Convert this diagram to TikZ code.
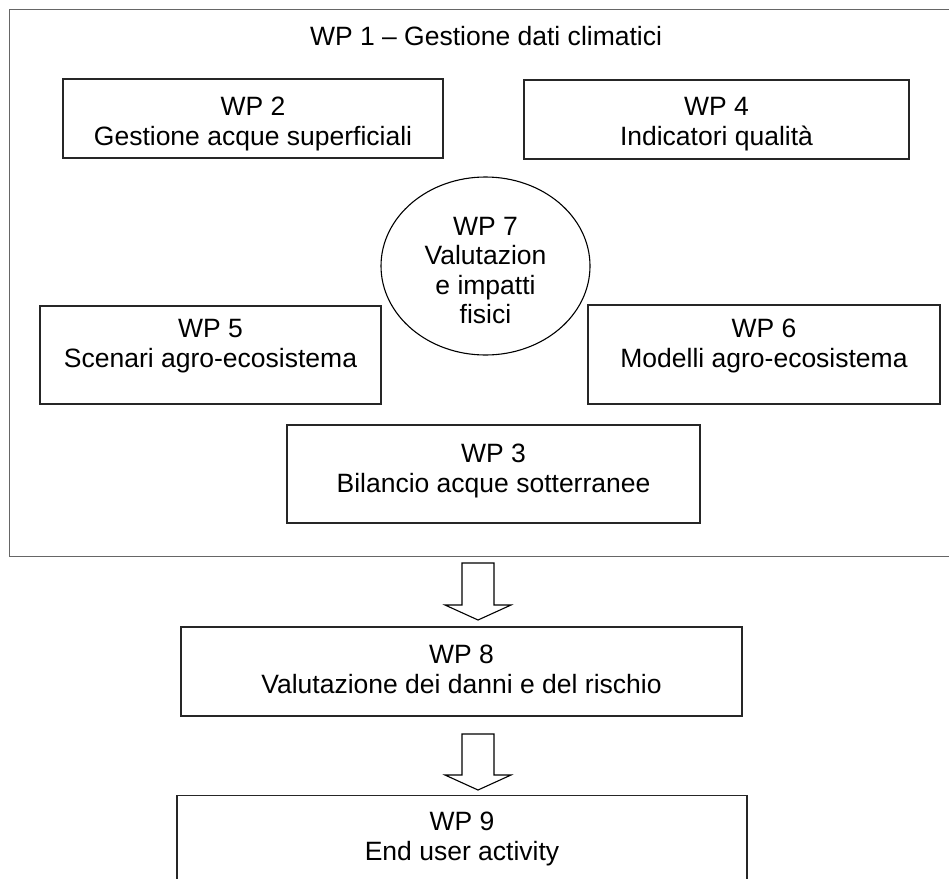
\documentclass[tikz,border=0pt]{standalone}
\usepackage{fontspec}
\setmainfont{Liberation Sans}
\usetikzlibrary{shapes.geometric}
\newcommand\uprule[1]{\rule{0pt}{#1pt}}
\newcommand\dnrule[1]{\rule[-#1pt]{0pt}{#1pt}}
\begin{document}
\begin{tikzpicture}[x=1pt,y=-1pt,
  every node/.style={font=\fontsize{26.5}{30}\selectfont, text=black},
  box/.style={draw=black!85, line width=1.1pt, rectangle, align=center, inner sep=0pt},
  oval/.style={draw=black, line width=1.1pt, ellipse, align=center, inner sep=0pt},
  outer/.style={draw=black!60, line width=1.3pt, rectangle, inner sep=0pt},
  barrow/.style={draw=black, line width=1.1pt, line join=miter}]
\useasboundingbox (0,0) rectangle (949,878);
\node[outer, minimum width=955, minimum height=547, anchor=north west] (wp1) at (9,9) {};
\node[inner sep=0pt] (wp1t) at (486,36.5) {WP 1 -- Gestione dati climatici};
\node[box, minimum width=380, minimum height=79] (wp2) at (253,118.5) {\uprule{28.6}WP 2\\Gestione acque superficiali};
\node[box, minimum width=385, minimum height=79] (wp4) at (716.5,119.5) {\uprule{27}WP 4\\Indicatori qualità};
\node[oval, minimum width=209, minimum height=178, font=\fontsize{26.5}{29.5}\selectfont] (wp7) at (485.5,266) {\uprule{26.8}WP 7\\Valutazion\\e impatti\\fisici};
\node[box, minimum width=341, minimum height=98] (wp5) at (210.5,355) {WP 5\\Scenari agro-ecosistema\dnrule{23}};
\node[box, minimum width=352, minimum height=99] (wp6) at (764,354.5) {WP 6\\Modelli agro-ecosistema\dnrule{22}};
\node[box, minimum width=413, minimum height=98] (wp3) at (493.5,474) {WP 3\\Bilancio acque sotterranee\dnrule{11}};
\node[box, minimum width=561, minimum height=89] (wp8) at (461.5,671.5) {WP 8\\Valutazione dei danni e del rischio\dnrule{4}};
\node[box, minimum width=570, minimum height=86, anchor=north] (wp9) at (462,795) {WP 9\\End user activity};
% block arrows
\coordinate (a1) at (478,563);
\coordinate (a2) at (478,734);
\draw[barrow] (a1) ++(-16,0) -- ++(32,0) -- ++(0,42) -- ++(17,0) -- (478,620) -- ++(-33,-15) -- ++(17,0) -- cycle;
\draw[barrow] (a2) ++(-16,0) -- ++(32,0) -- ++(0,41) -- ++(17,0) -- (478,790) -- ++(-33,-15) -- ++(17,0) -- cycle;
\end{tikzpicture}
\end{document}
